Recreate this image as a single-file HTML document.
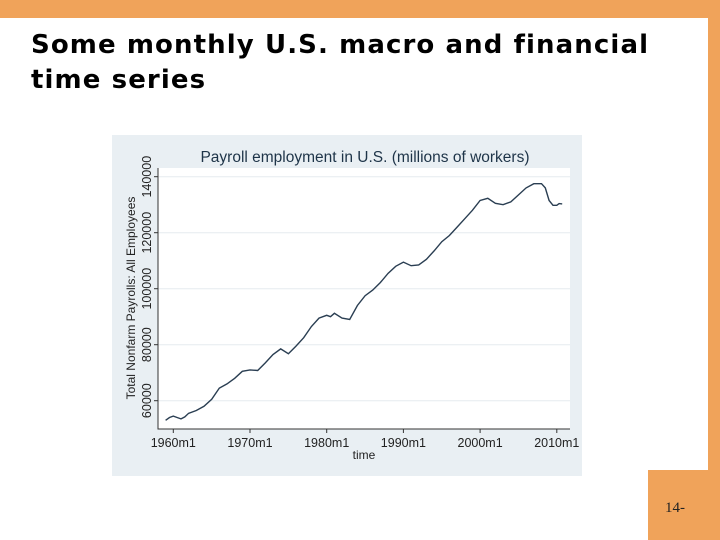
<!DOCTYPE html>
<html><head><meta charset="utf-8"><style>
body{margin:0;width:720px;height:540px;position:relative;background:#fff;overflow:hidden;font-family:"Liberation Sans",sans-serif}
.o{position:absolute;background:#F0A35A}
</style></head><body>
<div class="o" style="left:0;top:0;width:720px;height:18px"></div>
<div class="o" style="left:708px;top:0;width:12px;height:540px"></div>
<div class="o" style="left:648px;top:470px;width:72px;height:70px"><div style="position:absolute;left:17px;top:30px;font-family:'Liberation Serif',serif;font-size:15px;color:#222">14-</div></div>
<div style="position:absolute;left:31px;top:28px;font-family:'DejaVu Sans',sans-serif;font-size:26px;letter-spacing:1.1px;font-weight:bold;line-height:35px;color:#000;white-space:nowrap">Some monthly U.S. macro and financial<br>time series</div>
<svg style="position:absolute;left:0;top:0" width="720" height="540" id="c">
<rect x="112" y="135" width="470" height="341" fill="#E9EFF3"/>
<rect x="158" y="168" width="412" height="261" fill="#fff"/>
<text x="365" y="162" text-anchor="middle" font-size="15.5" fill="#1e3448">Payroll employment in U.S. (millions of workers)</text>
<text transform="translate(135,298) rotate(-90)" text-anchor="middle" font-size="12" fill="#222">Total Nonfarm Payrolls: All Employees</text>
<text x="364" y="459" text-anchor="middle" font-size="12" fill="#222">time</text>
<g id="g"></g>
</svg>
<script>
const years=[1959,1959.5,1960,1960.5,1961,1961.5,1962,1963,1964,1965,1966,1967,1968,1969,1970,1971,1972,1973,1974,1975,1976,1977,1978,1979,1980,1980.5,1981,1982,1983,1984,1985,1986,1987,1988,1989,1990,1991,1992,1993,1994,1995,1996,1997,1998,1999,2000,2001,2002,2003,2004,2005,2006,2007,2008,2008.5,2009,2009.5,2010,2010.3,2010.7];
const payroll=[53000,54000,54500,54000,53500,54200,55500,56500,58000,60500,64500,66000,68000,70500,71000,70800,73500,76500,78500,76800,79500,82500,86500,89500,90500,90000,91200,89500,89000,94000,97500,99500,102200,105500,108000,109500,108200,108500,110500,113500,116800,119000,122000,125000,128000,131500,132300,130500,130000,131000,133500,136000,137500,137500,136000,131500,129800,129800,130400,130300];
const yTicks=[60000,80000,100000,120000,140000];
const xTicks=[1960,1970,1980,1990,2000,2010];
const xTickLabels=["1960m1","1970m1","1980m1","1990m1","2000m1","2010m1"];
const X=v=>173.3+(v-1960)*7.67, Y=v=>400.7-(v-60000)*0.0028;
const g=document.getElementById('g'),NS='http://www.w3.org/2000/svg';
function mk(t,a){const e=document.createElementNS(NS,t);for(const k in a)e.setAttribute(k,a[k]);g.appendChild(e);return e;}
yTicks.forEach(v=>{
 const l=mk('line',{x1:158,x2:570,y1:Y(v),y2:Y(v),stroke:'#E6ECEF','stroke-width':1});
 
 
 const t=mk('line',{x1:154,x2:158,y1:Y(v),y2:Y(v),stroke:'#333'});
 
 
 const tx=mk('text',{transform:`translate(151,${Y(v)}) rotate(-90)`,'text-anchor':'middle','font-size':12.5,fill:'#222'});
 tx.textContent=v;
 
 
});
xTicks.forEach((v,i)=>{
 const t=mk('line',{x1:X(v),x2:X(v),y1:429,y2:433,stroke:'#333'});
 
 
 const tx=mk('text',{x:X(v),y:447,'text-anchor':'middle','font-size':12.5,fill:'#222'});
 tx.textContent=xTickLabels[i];
 
 
});
const ax=mk('path',{d:'M158,168V429H570',fill:'none',stroke:'#333'});


const ln=mk('path',{d:years.map((y,i)=>(i?'L':'M')+X(y).toFixed(1)+','+Y(payroll[i]).toFixed(1)).join(''),fill:'none',stroke:'#2a3e52','stroke-width':1.4});


</script>
</body></html>
